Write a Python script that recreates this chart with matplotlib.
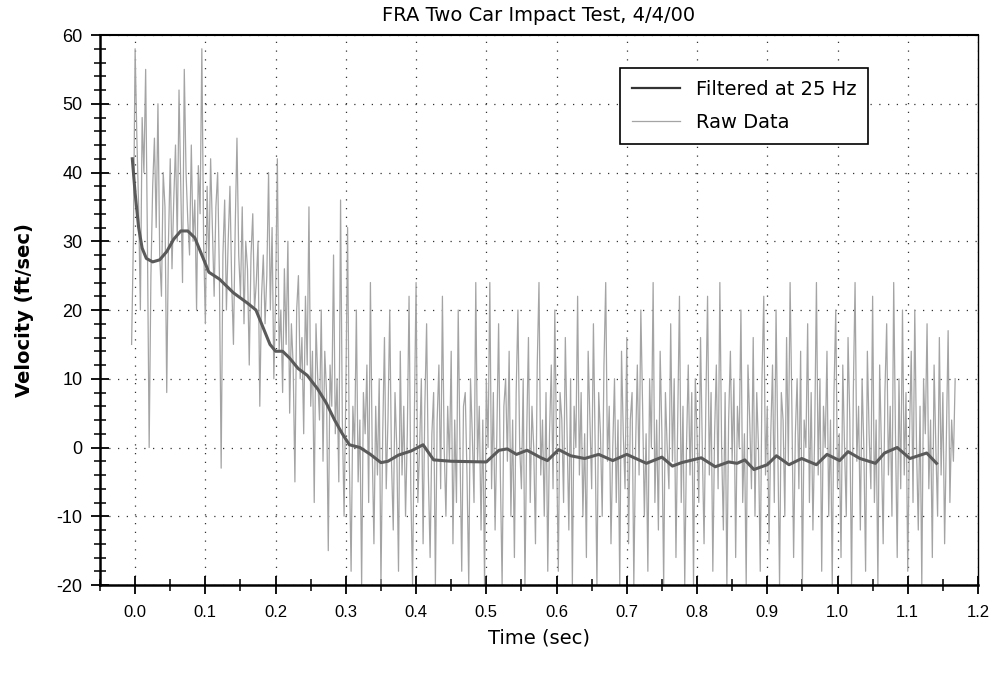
import numpy as np
import matplotlib.pyplot as plt
from matplotlib.ticker import MultipleLocator, FormatStrFormatter

plt.rcParams['font.family'] = ['DejaVu Sans']
plt.rcParams['axes.unicode_minus'] = False

# raw samples, one every 2.5 ms starting at t = -0.005 s
t0 = -0.005
dt = 0.0025
raw = [
    15, 30, 58, 45, 35, 20, 48, 40, 55, 30, 0, 25, 38, 45, 32, 50, 28, 22, 40, 35,
    8, 30, 42, 26, 36, 44, 30, 52, 38, 24, 55, 40, 33, 28, 44, 30, 36, 20, 41, 34,
    58, 30, 18, 38, 26, 42, 32, 22, 35, 40, 25, -3, 28, 36, 20, 30, 38, 24, 15, 32,
    45, 28, 22, 35, 18, 30, 26, 12, 28, 34, 20, 24, 30, 6, 22, 28, 18, 25, 40, 20,
    32, 10, 22, 42, 14, 20, 8, 26, 15, 30, 5, 18, 12, -5, 20, 25, 10, 16, 2, 22,
    12, 35, 6, 14, -8, 18, 10, 4, 20, -2, 14, 8, -15, 12, 6, 28, 2, 10, -5, 36,
    4, -10, 8, 32, -2, -18, 6, 0, 20, -5, 4, -20, 8, 2, 12, -8, 24, 0, -14, 6,
    -4, 10, -20, 2, 16, -6, 4, 20, -2, -12, 8, 0, -18, 14, -4, 6, -10, 2, 22, -6,
    -20, 4, 24, -8, 0, 10, -14, 6, 18, -4, -16, 2, 8, -20, 4, 12, -6, 22, 0, -10,
    6, -2, 14, -14, 4, -8, 20, 0, -18, 6, 8, -4, -20, 10, 2, -8, 24, -2, 6, -12,
    4, -20, 10, 0, 24, -6, 8, -12, 2, 18, -4, -20, 6, 10, -2, 14, -10, 4, -16, 8,
    20, 0, -6, 10, -20, 2, 16, -8, 6, 0, -14, 12, 24, -4, 4, -10, 8, -18, 2, 12,
    -6, 20, 0, -18, 8, 4, -8, 16, 2, -12, 10, -20, 6, 0, 22, -4, 8, -10, 2, -16,
    14, 4, -6, 18, 0, -20, 8, 2, -10, 12, 24, -2, 6, -14, 0, 10, -8, 4, -20, 14,
    2, -6, 16, -14, 4, 8, -20, 0, 12, -4, 20, 6, -10, 2, -18, 10, 0, 24, -8, 4,
    -12, 14, 2, -20, 8, 0, -6, 18, -2, 10, -16, 4, 22, -8, 6, -20, 0, 12, -4, 8,
    -20, 10, 2, -8, 16, 0, -14, 6, 22, -4, 8, -18, 2, 12, -6, 24, 0, -12, 8, -20,
    4, 14, -2, 10, -16, 6, 0, 20, -8, 2, -20, 12, 4, -6, 16, -10, 8, 0, -18, 10,
    22, -4, 6, -14, 2, 12, -8, 20, 0, -20, 8, 4, -10, 16, -2, 24, 6, -16, 2, 10,
    -6, 14, -20, 4, 0, 18, -8, 8, -12, 2, 24, -4, 10, -18, 6, 0, 14, -10, 4, -20,
    8, 20, -6, 2, -16, 12, 0, -10, 16, 4, -20, 8, 24, -2, 6, -12, 10, 0, -18, 14,
    2, -6, 22, -8, 4, -20, 12, 0, -14, 8, 18, -4, 6, -10, 24, 2, -16, 10, -6, 20,
    -4, 8, -18, 2, 14, -8, 20, 0, -12, 6, -20, 10, 2, 18, -6, 4, -16, 12, 0, -10,
    16, -4, 8, -14, 2, 17, -8, 4, -2, 10,
]
t_raw = t0 + dt * np.arange(len(raw))

# filtered at 25 Hz
t_filt = [-0.004, 0.0, 0.005, 0.01, 0.016, 0.025, 0.035, 0.045, 0.055, 0.065,
          0.075, 0.085, 0.095, 0.105, 0.12, 0.14, 0.16, 0.172, 0.182, 0.192,
          0.2, 0.21, 0.22, 0.232, 0.245, 0.26, 0.272, 0.284, 0.295, 0.305,
          0.32, 0.335, 0.35, 0.36, 0.375, 0.393, 0.41, 0.425, 0.45, 0.5,
          0.518, 0.53, 0.543, 0.558, 0.578, 0.587, 0.603, 0.62, 0.64, 0.66,
          0.68, 0.7, 0.728, 0.75, 0.765, 0.778, 0.806, 0.826, 0.845, 0.857,
          0.868, 0.881, 0.9, 0.913, 0.931, 0.949, 0.97, 0.985, 1.003, 1.015,
          1.032, 1.054, 1.067, 1.085, 1.103, 1.127, 1.141]
v_filt = [42, 37, 32, 29, 27.5, 27, 27.3, 28.5, 30.3, 31.5,
          31.5, 30.5, 28, 25.5, 24.5, 22.5, 21, 20, 17.5, 15,
          14, 14, 13, 11.5, 10.5, 8.5, 6.5, 4, 2, 0.4,
          0, -1, -2.2, -2, -1.1, -0.5, 0.4, -1.8, -2, -2.1,
          -0.4, -0.2, -1.0, -0.4, -1.5, -1.9, -0.3, -1.2, -1.6, -1.0,
          -1.9, -1.0, -2.3, -1.4, -2.7, -2.2, -1.5, -2.8, -2.1, -2.3,
          -1.8, -3.2, -2.5, -1.2, -2.5, -1.6, -2.5, -1.0, -1.9, -0.6,
          -1.6, -2.3, -0.8, 0.0, -1.6, -0.8, -2.3]

fig = plt.figure(figsize=(9.95, 6.76), dpi=100)
ax = fig.add_axes([0.1005, 0.1346, 0.8824, 0.8136])

ax.plot(t_raw, raw, color='#a4a4a4', lw=0.9, label='Raw Data', zorder=2)
ax.plot(t_filt, v_filt, color='#5a5a5a', lw=2.2, label='Filtered at 25 Hz', zorder=3)

ax.set_xlim(-0.05, 1.2)
ax.set_ylim(-20, 60)
ax.set_xticks([i / 10 for i in range(13)])
ax.xaxis.set_minor_locator(MultipleLocator(0.05))
ax.yaxis.set_major_locator(MultipleLocator(10))
ax.yaxis.set_minor_locator(MultipleLocator(2))
ax.xaxis.set_major_formatter(FormatStrFormatter('%.1f'))
ax.tick_params(which='major', direction='inout', length=13, width=1.3,
               top=False, right=False)
ax.tick_params(which='minor', direction='inout', length=9, width=1.1,
               top=False, right=False)
ax.tick_params(axis='y', labelsize=13, pad=6)
ax.tick_params(axis='x', labelsize=12, pad=8)
for lab in ax.get_xticklabels() + ax.get_yticklabels():
    lab.set_family('Liberation Sans')

ax.grid(True, which='major', color='#333333', linestyle=(0, (1, 6)), lw=0.9)
for side, w in [('left', 1.8), ('bottom', 1.8), ('top', 1.5), ('right', 1.0)]:
    ax.spines[side].set_linewidth(w)

ax.set_title('FRA Two Car Impact Test, 4/4/00', fontsize=14, pad=10)
ax.set_xlabel('Time (sec)', fontsize=14, labelpad=6)
ax.set_ylabel('Velocity (ft/sec)', fontsize=14, fontweight='bold', labelpad=16)

handles, labels = ax.get_legend_handles_labels()
leg = ax.legend(handles[::-1], labels[::-1], loc='upper right',
                bbox_to_anchor=(0.875, 0.94), fontsize=14, fancybox=False,
                edgecolor='black', framealpha=1, handlelength=2.5,
                handletextpad=0.8, borderpad=0.6, labelspacing=0.75,
                borderaxespad=0)
leg.get_frame().set_linewidth(1.2)
leg.get_lines()[0].set_linewidth(1.6)
leg.get_lines()[0].set_color('#333333')

fig.savefig('out.png', dpi=100)
